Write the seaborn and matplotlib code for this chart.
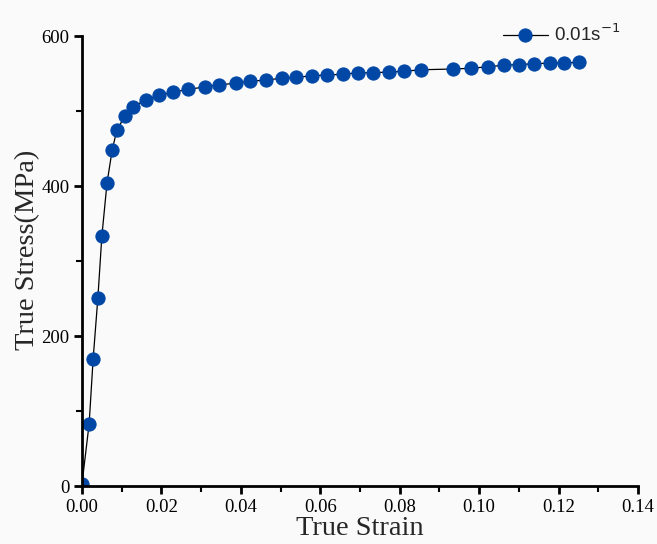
import numpy as np
import pandas as pd
import matplotlib.pyplot as plt
import seaborn as sns
from matplotlib.ticker import MultipleLocator

strain = [0.0, 0.0018, 0.0028, 0.0040, 0.0050, 0.0063, 0.0076, 0.0088, 0.0108,
          0.0128, 0.0160, 0.0194, 0.0230, 0.0267, 0.0310, 0.0345, 0.0388, 0.0423,
          0.0463, 0.0504, 0.0540, 0.0580, 0.0617, 0.0657, 0.0695, 0.0733, 0.0773,
          0.0811, 0.0854, 0.0934, 0.0980, 0.1022, 0.1063, 0.1100, 0.1138, 0.1179,
          0.1214, 0.1252]
stress = [3, 83, 169, 251, 333, 404, 448, 475, 493,
          505, 515, 521, 525, 529, 532, 535, 537, 540,
          541, 544, 545, 547, 548, 549, 551, 551, 552,
          553, 555, 556, 557, 559, 561, 562, 563, 564,
          564, 565]

df = pd.DataFrame({"strain": strain, "stress": stress})

sns.set_style("ticks")
fig = plt.figure(figsize=(6.57, 5.44), dpi=100, facecolor="#fafafa")
ax = fig.add_axes([0.1248, 0.1066, 0.8462, 0.8272])
ax.set_facecolor("#fafafa")

sns.lineplot(data=df, x="strain", y="stress", ax=ax, sort=False,
             color="black", linewidth=0.9, marker="o", markersize=9.5,
             markerfacecolor="#0047A6", markeredgecolor="#0047A6",
             label="0.01s$^{-1}$")

ax.set_xlim(0, 0.14)
ax.set_ylim(0, 600)
ax.xaxis.set_major_locator(MultipleLocator(0.02))
ax.xaxis.set_minor_locator(MultipleLocator(0.01))
ax.yaxis.set_major_locator(MultipleLocator(200))
ax.yaxis.set_minor_locator(MultipleLocator(100))
ax.set_xticklabels([f"{v:.2f}" for v in ax.get_xticks()])

for s in ["top", "right"]:
    ax.spines[s].set_visible(False)
for s in ["left", "bottom"]:
    ax.spines[s].set_linewidth(2)
    ax.spines[s].set_color("black")
ax.tick_params(which="major", direction="out", length=6, width=2, colors="black",
               labelsize=13.5, pad=3)
ax.tick_params(which="minor", direction="out", length=4, width=1.5, colors="black")
for lab in ax.get_xticklabels() + ax.get_yticklabels():
    lab.set_family("Liberation Serif")

ax.set_xlabel("True Strain", fontsize=20.5, family="Liberation Serif", labelpad=0)
ax.set_ylabel("True Stress(MPa)", fontsize=20.5, family="Liberation Serif")
ax.yaxis.set_label_coords(-0.075, 0.524)

leg = ax.legend(loc="upper right", bbox_to_anchor=(0.999, 1.065), frameon=False,
                prop={"family": "Liberation Sans", "size": 13.5},
                handlelength=2.4, handletextpad=0.35, markerscale=1.0)

fig.savefig("out.png", dpi=100, facecolor=fig.get_facecolor())
